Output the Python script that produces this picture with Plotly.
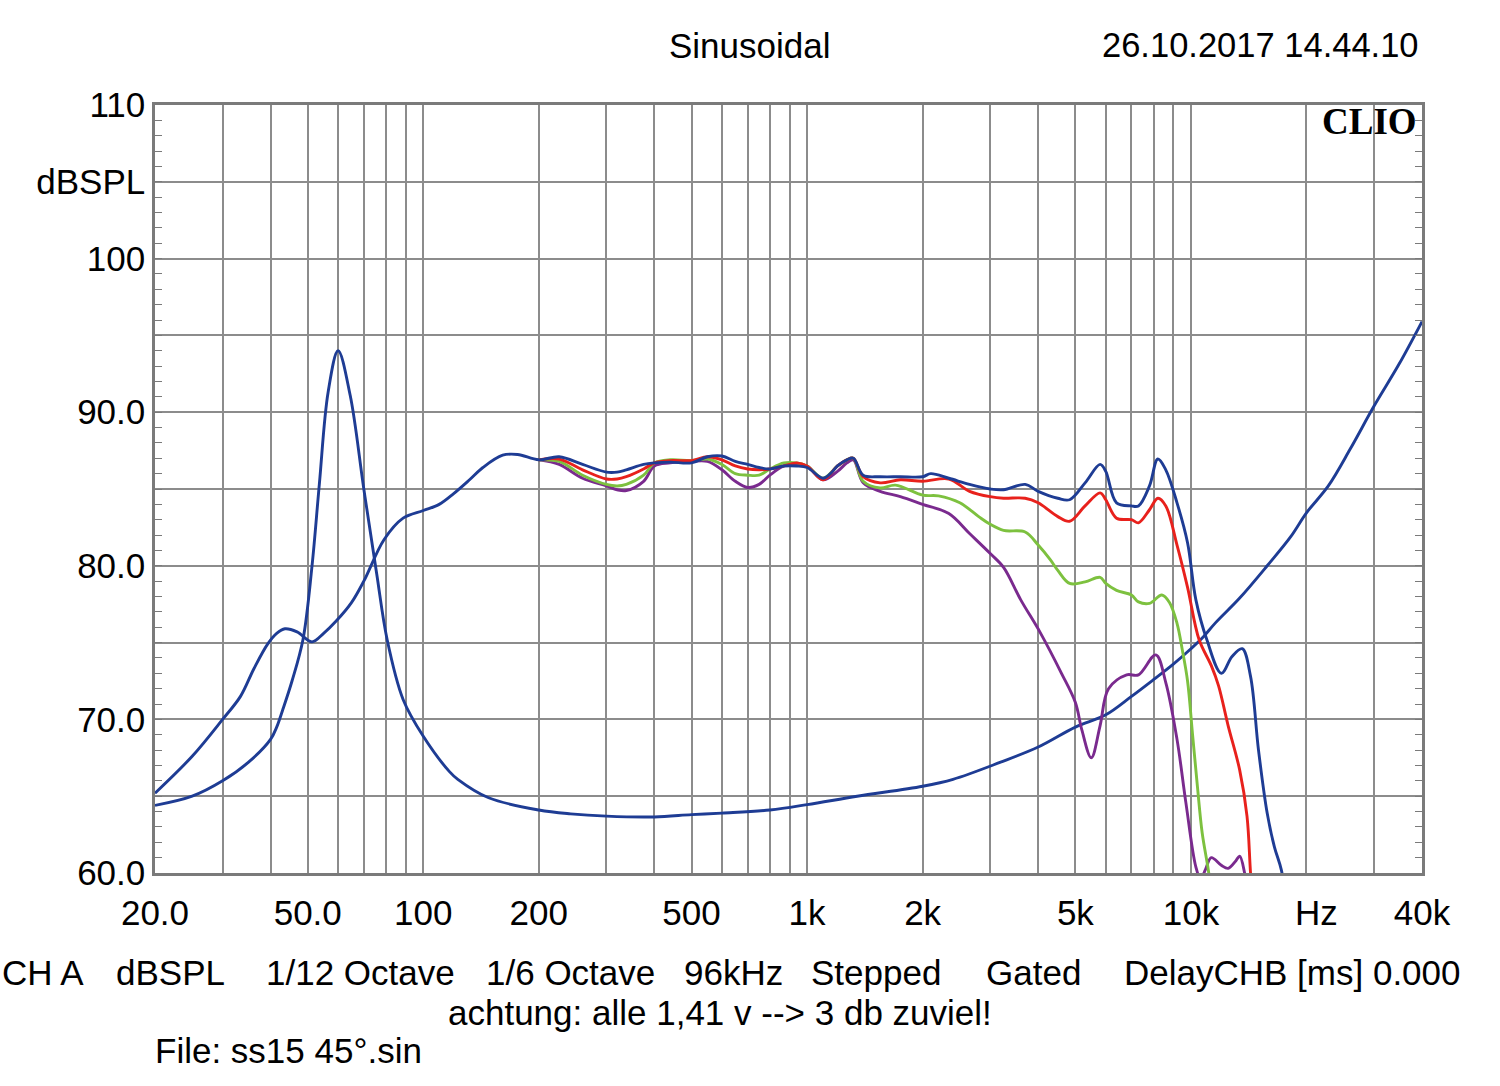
import math
import plotly.graph_objects as go

# ---------------- data ----------------
imp_f = [20, 25, 30, 35, 40, 41.5, 43, 45.5, 48.6, 51.3, 53.6, 56.5, 60, 64.5, 70, 75.6, 80.5, 88.6, 100,
         117, 123, 148, 200, 242, 300, 400, 500, 600, 800, 1000, 1350, 2000, 2400, 3180, 4000, 5000,
         6000, 7000, 8000, 9000, 10000, 10700, 11600, 13400, 15800, 18200, 20000, 22800, 26000, 30000,
         34800, 40000]
imp_db = [64.4, 65.0, 66.0, 67.2, 68.7, 69.5, 70.6, 72.5, 75.2, 80.0, 85.3, 91.3, 94.0, 91.1, 85.0, 79.5, 75.2, 71.3,
          68.9, 66.6, 66.1, 64.9, 64.1, 63.85, 63.7, 63.65, 63.8, 63.9, 64.1, 64.45, 65.0, 65.65, 66.1, 67.2, 68.2,
          69.5, 70.3, 71.5, 72.6, 73.6, 74.6, 75.3, 76.3, 77.9, 80.0, 81.9, 83.45, 85.2, 87.6, 90.4,
          93.1, 95.9]

blue_f = [20, 25, 30, 33.4, 36.2, 39.3, 41.5, 43.6, 46.9, 51.3, 55, 59.3, 65, 70, 79, 88.6, 100, 110, 120, 132, 143,
          161, 176, 200, 226, 260, 300, 320, 338, 375, 400, 440, 500, 550, 600, 650, 700, 750, 800, 870, 940, 1000,
          1100, 1150, 1200, 1270, 1320, 1400, 1550, 1750, 2000, 2100, 2340, 2650, 3000, 3250, 3700, 4000, 4500,
          4830, 5300, 5800, 6000, 6400, 7000, 7300, 7800, 8200, 8600, 9200, 9800, 10300, 11000, 12000, 12800,
          13600, 14300, 15000, 15800, 16500, 17200, 18000]
blue_db = [65.2, 67.6, 70.0, 71.5, 73.3, 74.9, 75.6, 75.9, 75.7, 75.05, 75.6, 76.4, 77.6, 79.0, 81.7, 83.1, 83.6,
           84.0, 84.7, 85.6, 86.4, 87.2, 87.25, 86.9, 87.1, 86.6, 86.1, 86.1, 86.25, 86.6, 86.7, 86.75, 86.7, 87.1,
           87.15, 86.8, 86.6, 86.4, 86.3, 86.5, 86.5, 86.4, 85.7, 86.0, 86.5, 86.9, 87.0, 85.9, 85.8, 85.8, 85.8,
           86.0, 85.7, 85.3, 85.0, 84.95, 85.3, 84.85, 84.4, 84.3, 85.4, 86.6, 86.15, 84.1, 83.9, 83.9, 85.2, 86.95,
           86.25, 84.1, 81.5, 77.8, 75.2, 73.0, 74.1, 74.6, 72.8, 68.0, 63.9, 61.7, 60.2, 57.0]

red_f = [200, 226, 260, 300, 320, 338, 375, 400, 440, 500, 550, 600, 650, 700, 750, 800, 870, 940, 1000, 1100,
         1200, 1270, 1320, 1400, 1550, 1750, 2000, 2340, 2650, 3000, 3250, 3700, 4000, 4500, 4830, 5300, 5800,
         6000, 6400, 7000, 7300, 7800, 8200, 8600, 9200, 9800, 10500, 11300, 11800, 12500, 13400, 14000, 14300,
         14600]
red_db = [86.9, 86.95, 86.25, 85.65, 85.65, 85.8, 86.3, 86.7, 86.85, 86.85, 87.1, 86.9, 86.5, 86.3, 86.25, 86.3,
          86.5, 86.7, 86.5, 85.6, 86.5, 86.9, 87.0, 85.8, 85.4, 85.6, 85.5, 85.65, 84.85, 84.5, 84.4, 84.4, 84.1,
          83.2, 82.9, 83.9, 84.75, 84.3, 83.1, 83.0, 82.8, 83.65, 84.4, 83.9, 81.35, 78.6, 75.2, 73.5, 72.2, 69.6,
          66.7, 63.7, 60.0, 57.0]

green_f = [200, 226, 260, 300, 320, 338, 375, 400, 440, 500, 550, 600, 650, 700, 750, 800, 870, 940, 1000, 1100,
           1200, 1270, 1320, 1400, 1550, 1700, 2000, 2200, 2500, 2800, 3000, 3250, 3700, 4000, 4300, 4500, 4830,
           5300, 5800, 6000, 6400, 7000, 7300, 7800, 8400, 8800, 9200, 9500, 9800, 10100, 10400, 10700, 11100,
           11400]
green_db = [86.9, 86.8, 85.9, 85.3, 85.2, 85.3, 85.9, 86.7, 86.9, 86.85, 86.95, 86.6, 86.0, 85.9, 85.9, 86.3, 86.7,
            86.7, 86.5, 85.7, 86.5, 86.9, 87.0, 85.5, 85.07, 85.25, 84.6, 84.55, 84.1, 83.2, 82.7, 82.3, 82.2, 81.35,
            80.4, 79.7, 78.85, 78.95, 79.25, 78.85, 78.4, 78.1, 77.65, 77.55, 78.1, 77.6, 76.25, 74.5, 72.5, 69.0,
            65.6, 62.6, 60.2, 58.0]

purple_f = [200, 226, 260, 300, 320, 338, 375, 400, 440, 500, 550, 600, 650, 700, 750, 800, 870, 940, 1000, 1100,
            1200, 1270, 1320, 1400, 1550, 1750, 2000, 2340, 2650, 3000, 3250, 3600, 4050, 4600, 5000, 5200, 5500,
            5800, 6100, 6800, 7300, 8100, 8600, 9200, 9700, 10300, 10600, 10900, 11300, 12000, 12500, 13100, 13400,
            13800, 14200]
purple_db = [86.9, 86.6, 85.7, 85.2, 84.95, 84.9, 85.5, 86.5, 86.7, 86.8, 86.8, 86.25, 85.5, 85.1, 85.3, 85.9, 86.5,
             86.6, 86.5, 85.6, 86.15, 86.7, 86.9, 85.4, 84.85, 84.5, 84.0, 83.4, 82.1, 80.8, 79.9, 77.8, 75.65, 73.0,
             71.1, 69.3, 67.5, 69.6, 72.0, 72.9, 72.9, 74.2, 72.4, 68.7, 64.6, 60.4, 59.6, 60.2, 61.0, 60.5, 60.3,
             60.8, 61.1, 60.0, 58.0]

grid_f = ([20, 30, 40, 50, 60, 70, 80, 90] + [100 * i for i in range(1, 10)] + [1000 * i for i in range(1, 10)]
          + [10000, 20000, 30000, 40000])
x_labels = {20: "20.0", 50: "50.0", 100: "100", 200: "200", 500: "500", 1000: "1k", 2000: "2k",
            5000: "5k", 10000: "10k", 40000: "40k"}
y_grid = [60, 65, 70, 75, 80, 85, 90, 95, 100, 105, 110]
y_labels = {60: "60.0", 70: "70.0", 80: "80.0", 90: "90.0", 100: "100", 105: "dBSPL", 110: "110"}

# ---------------- figure ----------------
W, H = 1500, 1086
L, R, T, B = 155, 1422, 105, 873
FONT = "Liberation Sans, Arial, sans-serif"
FS = 35

NAVY = "#1e3c94"
RED = "#e8211c"
GREEN = "#7dc13f"
PURPLE = "#7a2a8e"

fig = go.Figure()
line_kw = dict(shape="spline", smoothing=1.0, width=2.9)
fig.add_trace(go.Scatter(x=imp_f, y=imp_db, mode="lines", line=dict(color=NAVY, **line_kw), name="Impedance"))
fig.add_trace(go.Scatter(x=purple_f, y=purple_db, mode="lines", line=dict(color=PURPLE, **line_kw), name="purple"))
fig.add_trace(go.Scatter(x=green_f, y=green_db, mode="lines", line=dict(color=GREEN, **line_kw), name="green"))
fig.add_trace(go.Scatter(x=red_f, y=red_db, mode="lines", line=dict(color=RED, **line_kw), name="red"))
fig.add_trace(go.Scatter(x=blue_f, y=blue_db, mode="lines", line=dict(color=NAVY, **line_kw), name="0°"))

fig.update_layout(
    width=W, height=H,
    margin=dict(l=L, r=W - R, t=T, b=H - B, pad=0),
    paper_bgcolor="white", plot_bgcolor="white",
    showlegend=False,
    font=dict(family=FONT, size=FS, color="black"),
    xaxis=dict(
        type="log", range=[math.log10(20), math.log10(40000)],
        tickvals=grid_f, ticktext=[x_labels.get(f, "") for f in grid_f],
        showgrid=True, gridcolor="#8c8c8c", gridwidth=1.5,
        showline=True, linecolor="#7a7a7a", linewidth=2.5, mirror=True,
        ticks="", ticklabelstandoff=7, zeroline=False,
        tickfont=dict(family=FONT, size=FS, color="black"),
    ),
    yaxis=dict(
        range=[60, 110],
        tickvals=y_grid, ticktext=[y_labels.get(v, "") for v in y_grid],
        showgrid=True, gridcolor="#8c8c8c", gridwidth=1.5,
        showline=True, linecolor="#7a7a7a", linewidth=2.5, mirror="ticks",
        ticks="inside", ticklen=7, tickcolor="#7a7a7a", tickwidth=1.4,
        minor=dict(dtick=1, ticks="inside", ticklen=7, tickcolor="#7a7a7a", tickwidth=1.4, showgrid=False),
        ticklabelstandoff=0, zeroline=False,
        tickfont=dict(family=FONT, size=FS, color="black"),
    ),
)


def px(xp):
    return (xp - L) / (R - L)


def py(yp):
    return (B - yp) / (B - T)


annos = [
    ("Sinusoidal", 750, 45, "center", FONT, FS),
    ("26.10.2017 14.44.10", 1421, 45, "right", FONT, 34.5),
    ("Hz", 1316, 912, "center", FONT, FS),
    ("CH A", 0, 972, "left", FONT, FS),
    ("dBSPL", 114, 972, "left", FONT, FS),
    ("1/12 Octave", 264, 972, "left", FONT, FS),
    ("1/6 Octave", 484, 972, "left", FONT, FS),
    ("96kHz", 682, 972, "left", FONT, FS),
    ("Stepped", 809, 972, "left", FONT, FS),
    ("Gated", 984, 972, "left", FONT, FS),
    ("DelayCHB [ms] 0.000", 1122, 972, "left", FONT, FS),
    ("achtung: alle 1,41 v --> 3 db zuviel!", 446, 1012, "left", FONT, FS),
    ("File: ss15 45°.sin", 153, 1050, "left", FONT, FS),
    ("<b>CLIO</b>", 1419, 122, "right", "Liberation Serif, Times New Roman, serif", 37),
]
for text, xp, yp, anchor, fam, size in annos:
    fig.add_annotation(text=text, x=px(xp), y=py(yp), xref="paper", yref="paper",
                       xanchor=anchor, yanchor="middle", showarrow=False,
                       font=dict(family=fam, size=size, color="black"))

fig.write_html("out.html", config={"displayModeBar": False},
               post_script="document.body.style.margin='0';")
